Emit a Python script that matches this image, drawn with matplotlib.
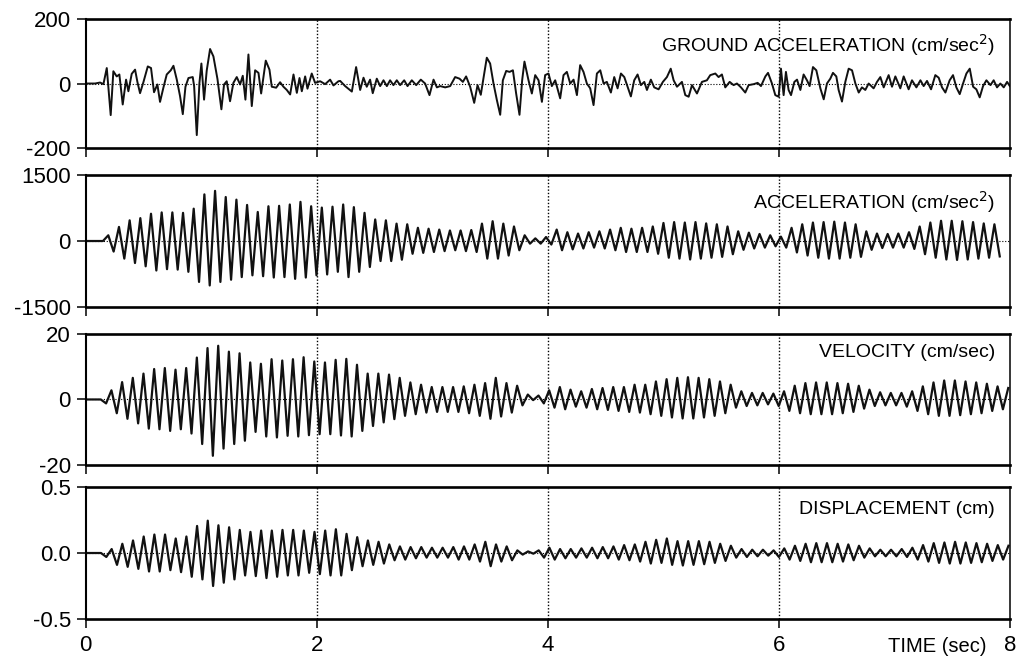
"""
Ground acceleration and oscillator response time histories
"""
import numpy as np
import matplotlib
matplotlib.use('Agg')
import matplotlib.pyplot as plt

plt.rcParams['font.family'] = ['Liberation Sans', 'DejaVu Sans']

# ground acceleration (sec, cm/sec^2)
ground_t = [0.0, 0.083, 0.126, 0.155, 0.184, 0.218, 0.241, 0.270, 0.293, 0.322,
            0.351, 0.371, 0.400, 0.429, 0.449, 0.472, 0.501, 0.539, 0.567, 0.593,
            0.622, 0.645, 0.674, 0.703, 0.738, 0.761, 0.790, 0.818, 0.842, 0.865,
            0.891, 0.928, 0.940, 0.963, 0.986, 1.003, 1.026, 1.049, 1.078, 1.107,
            1.142, 1.176, 1.199, 1.222, 1.251, 1.280, 1.309, 1.338, 1.361, 1.384,
            1.410, 1.439, 1.468, 1.497, 1.520, 1.560, 1.592, 1.612, 1.650, 1.684,
            1.713, 1.742, 1.771, 1.800, 1.829, 1.852, 1.872, 1.901, 1.921, 1.958,
            1.987, 2.031, 2.074, 2.117, 2.146, 2.189,
            2.204, 2.247, 2.305, 2.342, 2.377, 2.406, 2.434, 2.463, 2.486, 2.521,
            2.550, 2.579, 2.608, 2.636, 2.665, 2.694, 2.723, 2.758, 2.787, 2.824,
            2.862, 2.902, 2.939, 2.977, 3.012, 3.041, 3.069, 3.113, 3.156, 3.199,
            3.237, 3.266, 3.294, 3.329, 3.364, 3.393, 3.421, 3.445, 3.473, 3.502,
            3.531, 3.560, 3.589, 3.612, 3.641, 3.670, 3.699, 3.727, 3.756, 3.779,
            3.799, 3.834, 3.863, 3.892, 3.921, 3.950, 3.978, 4.007, 4.036, 4.065,
            4.108, 4.137, 4.166, 4.195, 4.224, 4.253, 4.281, 4.310, 4.339, 4.368,
            4.397, 4.426, 4.455, 4.484, 4.512, 4.547, 4.576, 4.605, 4.634, 4.663,
            4.691, 4.720, 4.749, 4.778, 4.807, 4.836, 4.859, 4.893, 4.922, 4.960,
            4.997, 5.032,
            5.065, 5.090, 5.119, 5.162, 5.191, 5.220, 5.249, 5.292, 5.335, 5.378,
            5.407, 5.451, 5.479, 5.508, 5.537, 5.575, 5.609, 5.638, 5.673, 5.710,
            5.739, 5.783, 5.817, 5.846, 5.884, 5.907, 5.941, 5.970, 5.999, 6.019,
            6.042, 6.062, 6.085, 6.106, 6.135, 6.158, 6.187, 6.215, 6.244, 6.267,
            6.296, 6.325, 6.360, 6.389, 6.417, 6.446, 6.469, 6.498, 6.518, 6.547,
            6.576, 6.605, 6.634, 6.663, 6.692, 6.720, 6.749, 6.778, 6.821, 6.850,
            6.879, 6.908, 6.951, 6.980, 7.009, 7.052, 7.081, 7.124, 7.153, 7.191,
            7.226, 7.254, 7.283, 7.318, 7.355, 7.384, 7.413, 7.442, 7.479, 7.508,
            7.537, 7.566, 7.595, 7.624, 7.653, 7.682, 7.710, 7.739, 7.768, 7.797,
            7.832, 7.860, 7.889, 7.918, 7.947, 7.976, 8.0]
ground_a = [0, 0, 3, -2, 48, -98, 38, 22, 28, -65,
            12, -24, 30, 43, 5, -30, 4, 53, 48, -27,
            -3, -57, -13, 28, 41, 55, 12, -39, -95, -10,
            17, 20, -8, -160, 2, 62, -50, 40, 107, 84,
            14, -80, -3, 7, -55, 2, 20, -3, 24, -50,
            90, -70, 41, 33, -31, 71, 43, -10, -13, 4,
            -10, -20, -34, 28, -29, 17, -24, 22, -16, 31,
            2, 7, -2, 12, -6, 7,
            8, -8, -25, 51, -20, 18, -10, 12, -30, 15,
            -8, 10, -8, 10, -5, 10, -5, 10, -8, 10,
            -5, 12, 0, -36, 12, -12, -8, -12, -8, 20,
            15, 5, 22, -10, -60, -5, -35, 18, 80, 62,
            0, -51, -97, 10, 39, 36, 41, -31, -97, 10,
            68, 10, -31, 26, 10, -57, 26, 31, -8, 10,
            -46, 26, 36, 0, 12, -36, 57, 36, 0, -15,
            -67, 31, 41, 0, 5, -28, 20, -15, 31, 20,
            -10, -40, 10, 28, -5, 5, -20, 12, -12, -18,
            5, 20,
            46, 10, -10, 5, -36, -41, -5, -31, 5, 10,
            26, 31, 20, 28, -12, 5, -5, 0, -12, -28,
            -5, -2, 2, -8, 22, 33, 0, -36, -41, 46,
            -36, 36, -20, -36, 5, 12, -20, 28, 10, -8,
            51, 41, -15, -49, 0, 15, 33, 22, -20, -56,
            5, 46, 41, 0, -28, -12, -20, 0, -15, 5,
            20, -12, 26, -10, 22, -15, 22, -18, 10, -12,
            10, -8, 8, -18, 26, 18, -12, -28, 10, 26,
            -12, -33, 0, 31, 46, -10, -18, -43, -8, 10,
            -5, 10, -12, 0, -12, 5, -8]

# oscillator response: one extreme value every half cycle
half_cycle = 0.0462

acc_start = 0.151
acc_peaks = [0,
             130, -240, 320, -400, 470, -500, 520, -575, 620, -670,
             650, -640, 650, -650, 640, -700, 735, -930, 1060, -1010,
             1140, -930, 1000, -880, 940, -820, 820, -780, 660, -800,
             790, -830, 800, -820, 830, -860, 890, -830, 790, -780,
             760, -760, 780, -700, 830, -820, 770, -700, 640, -590,
             490, -455, 470, -455, 395, -425, 380, -290, 300, -270,
             280, -250, 260, -230, 240, -210, 240, -230, 250, -250,
             395, -400, 450, -400, 395, -330, 330, -210, 130, -60,
             60, -60, 90, -80, 260, -210, 200, -190, 170, -170,
             200, -150, 220, -170, 260, -210, 300, -250, 280, -250,
             300, -250, 330, -290, 410, -380, 430, -400, 420, -420,
             430, -400, 400, -380, 380, -360, 330, -300, 220, -200,
             190, -170, 160, -150, 130, -120, 100, -150, 300, -260,
             380, -330, 420, -380, 430, -400, 440, -400, 420, -380,
             380, -360, 220, -200, 170, -160, 160, -150, 170, -150,
             200, -180, 330, -300, 420, -380, 460, -420, 460, -430,
             450, -420, 430, -400, 400, -380, 380, -350]

vel_start = 0.132
vel_peaks = [0,
             -1.2, 2.8, -4.2, 5.3, -5.9, 6.6, -7.3, 7.9, -8.9, 9.3,
             -9.1, 9.6, -9.6, 9.1, -9.1, 9.6, -10.4, 12.8, -13.6, 15.7,
             -17.2, 16.4, -15, 14.6, -13.6, 14.1, -12.6, 11.3, -9.9, 10.9,
             -11.3, 12.3, -11.6, 11.9, -11.1, 12.3, -11.3, 12.9, -10.9, 11.6,
             -10.6, 11.3, -10.6, 12.1,
             -11, 12.4, -11.3, 10.6, -9.6, 7.9, -8.1, 7.9, -7, 7.6,
             -6, 6.6, -5, 5.2, -4.5, 4.5, -4, 3.8, -3.8, 3.8,
             -3.8, 3.8, -3.8, 4, -4.2, 4.5, -5, 5, -5.9, 6.6,
             -5.2, 5, -4, 4.2, -1.8, 1.5, -0.2, 1.2, -1.2, 2.8,
             -2.5, 3.8, -3, 3, -2.2, 2.5, -2.5, 3.2, -3, 3.5,
             -3.2, 3.8, -3.5, 3.8, -3.8, 4.5, -4, 4.5, -4.5, 5.5,
             -5, 6.2,
             -5.5, 6.6, -5.8, 6.8, -5.8, 6.6, -5.5, 6.2, -5, 5.5,
             -4.2, 4.5, -2.5, 2.5, -2, 2, -1.8, 2, -1.5, 1.8,
             -2, 2.5, -3.5, 4.2, -4.2, 5, -4.5, 5.2, -4.5, 5.2,
             -4.5, 5, -4.2, 4.8, -3.8, 4.2, -2.8, 3, -2, 2.2,
             -1.8, 2, -1.8, 2, -2.2, 2.5, -3.5, 4, -4.5, 5.2,
             -5, 5.8, -5, 5.8, -4.8, 5.5, -4.5, 5.2, -4.2, 4.8,
             -3.5, 4, -3, 3.5]

disp_start = 0.134
disp_peaks = [0,
              -0.03, 0.03, -0.09, 0.07, -0.105, 0.095, -0.12, 0.125, -0.14, 0.14,
              -0.14, 0.14, -0.13, 0.11, -0.145, 0.125, -0.18, 0.205, -0.2, 0.245,
              -0.25, 0.21, -0.225, 0.195, -0.2, 0.175, -0.17, 0.16, -0.175, 0.17,
              -0.19, 0.17, -0.18, 0.175, -0.17, 0.175, -0.17, 0.17, -0.15, 0.16,
              -0.16, 0.17,
              -0.17, 0.18, -0.17, 0.145, -0.13, 0.12, -0.1, 0.095, -0.09, 0.085,
              -0.08, 0.065, -0.055, 0.05, -0.05, 0.045, -0.04, 0.045, -0.035, 0.04,
              -0.035, 0.04, -0.035, 0.045, -0.05, 0.05, -0.05, 0.065, -0.065, 0.085,
              -0.1, 0.065, -0.065, 0.05, -0.055, 0.02, -0.012, 0.012, -0.005, 0.02,
              -0.035, 0.04, -0.05, 0.03, -0.04, 0.03, -0.035, 0.035, -0.035, 0.04,
              -0.04, 0.045, -0.04, 0.05, -0.05, 0.06, -0.055, 0.065, -0.065, 0.085,
              -0.08, 0.1, -0.075, 0.11,
              -0.09, 0.09, -0.095, 0.09, -0.09, 0.09, -0.085, 0.085, -0.075, 0.07,
              -0.06, 0.055, -0.035, 0.03, -0.03, 0.025, -0.025, 0.025, -0.02, 0.02,
              -0.03, 0.035, -0.05, 0.055, -0.06, 0.07, -0.07, 0.075, -0.07, 0.075,
              -0.07, 0.07, -0.065, 0.065, -0.055, 0.055, -0.035, 0.035, -0.025, 0.025,
              -0.025, 0.025, -0.025, 0.03, -0.03, 0.04, -0.05, 0.06, -0.065, 0.075,
              -0.075, 0.08, -0.08, 0.085, -0.08, 0.08, -0.075, 0.075, -0.07, 0.07,
              -0.06, 0.06, -0.05, 0.055]

panel_labels = ['GROUND ACCELERATION (cm/sec$^2$)', 'ACCELERATION (cm/sec$^2$)',
                'VELOCITY (cm/sec)', 'DISPLACEMENT (cm)']
y_limits = [200, 1500, 20, 0.5]
y_ticklabels = [['-200', '0', '200'], ['-1500', '0', '1500'],
                ['-20', '0', '20'], ['-0.5', '0.0', '0.5']]
x_ticks = [0, 2, 4, 6, 8]


def responseTrace(start, peaks):
    t = np.r_[0.0, start + half_cycle * np.arange(len(peaks))]
    v = np.r_[0.0, peaks]
    return t, v


def drawPanel(ax, t, v, lim, ticklabels, label, label_y, lw):
    ax.plot(t, v, color='#111111', lw=lw, solid_joinstyle='round')
    ax.axhline(0, color='black', lw=0.8, ls=(0, (1, 1.6)), zorder=0)
    for x in (2, 4, 6):
        ax.axvline(x, color='black', lw=1.0, ls=(0, (1, 1.4)), zorder=0)
    ax.set_xlim(0, 8)
    ax.set_ylim(-lim, lim)
    ax.set_yticks([-lim, 0, lim])
    ax.set_yticklabels(ticklabels)
    ax.set_xticks(x_ticks)
    ax.tick_params(direction='out', length=6.5, width=1.1, labelsize=16, pad=4)
    ax.tick_params(axis='x', labelbottom=False)
    ax.spines['top'].set_linewidth(1.9)
    ax.spines['bottom'].set_linewidth(1.9)
    ax.spines['left'].set_linewidth(1.5)
    ax.spines['right'].set_linewidth(1.1)
    ax.text(0.984, label_y, label, transform=ax.transAxes, ha='right',
            va='center', fontsize=14)


if __name__ == '__main__':
    fig = plt.figure(figsize=(10.18, 6.56), dpi=100)
    # panel boxes: left, bottom, width, height (figure fraction)
    boxes = [[0.084, 0.7744, 0.908, 0.1966],
             [0.084, 0.532, 0.908, 0.2012],
             [0.084, 0.2912, 0.908, 0.1997],
             [0.084, 0.0564, 0.908, 0.2012]]
    label_ys = [0.80, 0.795, 0.855, 0.826]
    line_widths = [1.4, 1.6, 1.6, 1.6]
    traces = [(np.array(ground_t), np.array(ground_a)),
              responseTrace(acc_start, acc_peaks),
              responseTrace(vel_start, vel_peaks),
              responseTrace(disp_start, disp_peaks)]
    axes = []
    for i in range(4):
        ax = fig.add_axes(boxes[i])
        t, v = traces[i]
        drawPanel(ax, t, v, y_limits[i], y_ticklabels[i], panel_labels[i],
                  label_ys[i], line_widths[i])
        axes.append(ax)

    bottom = axes[-1]
    bottom.tick_params(axis='x', labelbottom=True, pad=5)
    bottom.text(7.8, -0.21, 'TIME (sec)', transform=bottom.get_xaxis_transform(),
                ha='right', va='center', fontsize=14.5)

    fig.savefig('out.png', dpi=100)
